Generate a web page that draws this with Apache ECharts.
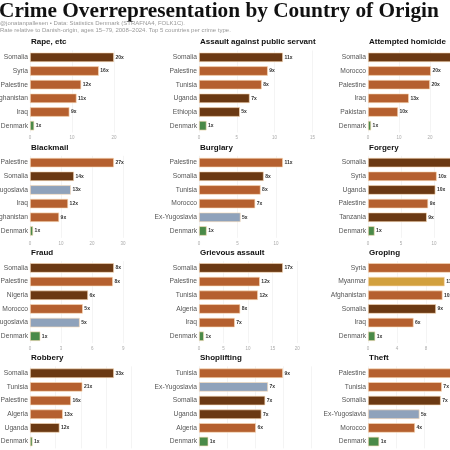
<!DOCTYPE html>
<html>
<head>
<meta charset="utf-8">
<script src="https://cdn.jsdelivr.net/npm/echarts@6/dist/echarts.min.js"></script>
<style>
  html, body { margin: 0; padding: 0; background: #fff; }
  #chart { width: 450px; height: 450px; }
</style>
</head>
<body>
<div id="chart"></div>
<script>
// one entry per panel, read left to right, top to bottom
const panelTitles = [
    'Rape, etc', 'Assault against public servant', 'Attempted homicide',
    'Blackmail', 'Burglary', 'Forgery',
    'Fraud', 'Grievous assault', 'Groping',
    'Robbery', 'Shoplifting', 'Theft',
];

const countries = [
    ['Somalia', 'Syria', 'Palestine', 'Afghanistan', 'Iraq', 'Denmark'],
    ['Somalia', 'Palestine', 'Tunisia', 'Uganda', 'Ethiopia', 'Denmark'],
    ['Somalia', 'Morocco', 'Palestine', 'Iraq', 'Pakistan', 'Denmark'],
    ['Palestine', 'Somalia', 'Ex-Yugoslavia', 'Iraq', 'Afghanistan', 'Denmark'],
    ['Palestine', 'Somalia', 'Tunisia', 'Morocco', 'Ex-Yugoslavia', 'Denmark'],
    ['Somalia', 'Syria', 'Uganda', 'Palestine', 'Tanzania', 'Denmark'],
    ['Somalia', 'Palestine', 'Nigeria', 'Morocco', 'Ex-Yugoslavia', 'Denmark'],
    ['Somalia', 'Palestine', 'Tunisia', 'Algeria', 'Iraq', 'Denmark'],
    ['Syria', 'Myanmar', 'Afghanistan', 'Somalia', 'Iraq', 'Denmark'],
    ['Somalia', 'Tunisia', 'Palestine', 'Algeria', 'Uganda', 'Denmark'],
    ['Tunisia', 'Ex-Yugoslavia', 'Somalia', 'Uganda', 'Algeria', 'Denmark'],
    ['Palestine', 'Tunisia', 'Somalia', 'Ex-Yugoslavia', 'Morocco', 'Denmark'],
];

// rate relative to Danish-origin
const rates = [
    [20.0, 16.4, 12.2, 11.1, 9.4, 1.0],
    [11.1, 9.1, 8.3, 6.7, 5.4, 1.0],
    [27.1, 20.3, 20.0, 13.2, 9.7, 1.0],
    [27.1, 14.2, 13.2, 12.3, 9.4, 1.0],
    [10.9, 8.4, 8.0, 7.3, 5.4, 1.0],
    [12.7, 10.4, 10.2, 9.1, 8.9, 1.0],
    [8.1, 8.0, 5.6, 5.1, 4.8, 1.0],
    [17.1, 12.4, 12.0, 8.4, 7.3, 1.0],
    [11.6, 10.6, 10.3, 9.4, 6.3, 1.0],
    [33.0, 20.6, 16.1, 12.9, 11.6, 1.0],
    [9.0, 7.4, 7.1, 6.7, 6.1, 1.0],
    [7.5, 6.6, 6.5, 4.6, 4.2, 1.0],
];

const tickSteps = [10, 5, 10, 10, 5, 5, 3, 5, 4, 10, 3, 2.5];

const regionColors = {
    eastAfrica: '#6b3913',
    mena: '#b5602f',
    europe: '#8fa2bb',
    asia: '#d2a03e',
    denmark: '#4a8a48',
};

const countryRegion = {
    Somalia: 'eastAfrica', Uganda: 'eastAfrica', Ethiopia: 'eastAfrica',
    Nigeria: 'eastAfrica', Tanzania: 'eastAfrica',
    Myanmar: 'asia',
    'Ex-Yugoslavia': 'europe',
    Denmark: 'denmark',
};

const colLeft = [30, 199, 368];
const rowTop = [50.5, 155.8, 261.1, 366.4];
const plotW = 115;
const plotH = 82;

const titles = [
    {
        text: 'Crime Overrepresentation by Country of Origin',
        left: -1,
        top: 0.5,
        padding: 0,
        textStyle: {
            fontFamily: 'Liberation Serif', fontWeight: 'bold', fontSize: 21.3, color: '#111',
        },
    },
    {
        text: '@jonatanpallesen \u2022 Data: Statistics Denmark (STRAFNA4, FOLK1C).',
        left: 0,
        top: 20.5,
        padding: 0,
        textStyle: { fontFamily: 'Liberation Sans', fontSize: 6, fontWeight: 'normal', color: '#999' },
    },
    {
        text: 'Rate relative to Danish-origin, ages 15\u201379, 2008\u20132024. Top 5 countries per crime type.',
        left: 0,
        top: 27.5,
        padding: 0,
        textStyle: { fontFamily: 'Liberation Sans', fontSize: 6, fontWeight: 'normal', color: '#999' },
    },
];

const grid = [];
const xAxis = [];
const yAxis = [];
const series = [];

panelTitles.forEach((name, i) => {
    const col = i % 3;
    const row = Math.floor(i / 3);
    const left = colLeft[col];
    const top = rowTop[row];

    titles.push({
        text: name,
        left: left + 1,
        top: top - 12.5,
        padding: 0,
        textStyle: {
            fontFamily: 'Liberation Sans', fontWeight: 'bold', fontSize: 8, color: '#111',
        },
    });

    grid.push({
        left: left,
        top: top,
        width: plotW,
        height: plotH,
        containLabel: false,
        outerBoundsMode: 'none',
    });

    xAxis.push({
        gridIndex: i,
        type: 'value',
        min: 0,
        max: (v) => v.max * 1.37,
        interval: tickSteps[i],
        axisLine: { show: false },
        axisTick: { show: false },
        axisLabel: {
            fontFamily: 'Liberation Sans', fontSize: 4.5, color: '#aaa', margin: 3, showMaxLabel: false,
        },
        splitLine: {
            show: true, showMaxLine: false, lineStyle: { color: '#ececec', width: 0.6 },
        },
    });

    yAxis.push({
        gridIndex: i,
        type: 'category',
        inverse: true,
        data: countries[i],
        axisLine: { show: false },
        axisTick: { show: false },
        axisLabel: {
            fontFamily: 'Liberation Sans', fontSize: 6.7, color: '#555', margin: 2,
        },
    });

    series.push({
        type: 'bar',
        xAxisIndex: i,
        yAxisIndex: i,
        barWidth: 9.5,
        data: rates[i].map((v, j) => ({
            value: v,
            itemStyle: { color: regionColors[countryRegion[countries[i][j]] || 'mena'] },
        })),
        itemStyle: { borderColor: 'rgba(250,220,185,0.9)', borderWidth: 0.7 },
        label: {
            show: true,
            position: 'right',
            distance: 1.5,
            fontFamily: 'Liberation Sans',
            fontSize: 5,
            fontWeight: 'bold',
            color: '#333',
            formatter: (p) => `${Math.round(p.value)}x`,
        },
        silent: true,
        animation: false,
    });
});

const chart = echarts.init(document.getElementById('chart'));
chart.setOption({
    backgroundColor: '#fff',
    animation: false,
    title: titles,
    grid: grid,
    xAxis: xAxis,
    yAxis: yAxis,
    series: series,
});
</script>
</body>
</html>
